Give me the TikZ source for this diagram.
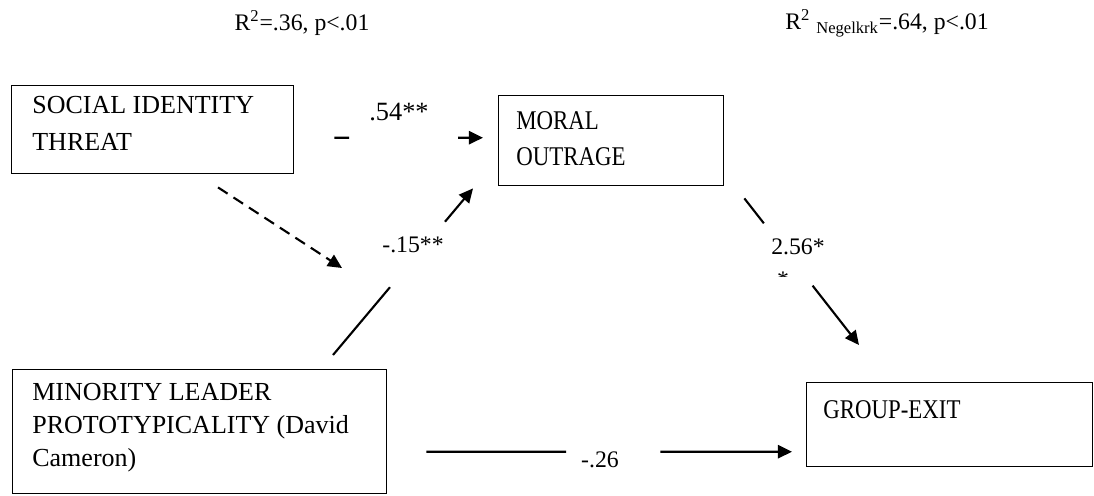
\documentclass[tikz,border=0pt]{standalone}
\usepackage{fontspec}
\setmainfont{Liberation Serif}
\newfontfamily\narrowserif[FakeStretch=0.845]{Liberation Serif}
\usetikzlibrary{arrows.meta,calc}
\begin{document}
\begin{tikzpicture}[x=0.02cm,y=-0.02cm,
  box/.style={draw, line width=0.8pt, rectangle, inner sep=0pt, anchor=north west},
  txt/.style={anchor=base west, align=left, inner sep=0pt},
  lbl/.style={inner sep=0pt, font=\fontsize{13.5}{16}\selectfont},
  conn/.style={line width=1.2pt},
  arr/.style={conn, -{Triangle[length=8pt,width=7.5pt]}},
  dasharr/.style={arr, dash pattern=on 6.5pt off 4pt}]
\useasboundingbox (0,0) rectangle (1094,495);

% model fit statistics
\node[lbl] (fit1) at (302,23) {R\textsuperscript{2}=.36, p<.01};
\node[lbl] (fit2) at (887,23) {R\textsuperscript{2} \textsubscript{Negelkrk}=.64, p<.01};

% variable boxes
\node[box, minimum width=5.64cm, minimum height=1.76cm] (sit) at (11,85) {};
\node[box, minimum width=4.5cm, minimum height=1.8cm] (mor) at (498,95) {};
\node[box, minimum width=7.48cm, minimum height=2.48cm] (min) at (12,369) {};
\node[box, minimum width=5.72cm, minimum height=1.68cm] (grp) at (806,382) {};

% box texts (anchored at the baseline of their last line)
\node[txt, font=\fontsize{14.8}{21}\selectfont] (sitT) at (32,150) {SOCIAL IDENTITY\\THREAT};
\node[txt, font=\narrowserif\fontsize{15.4}{20}\selectfont] (morT) at (516,165) {MORAL\\OUTRAGE};
\node[txt, font=\fontsize{14.8}{18.7}\selectfont] (minT) at (32,466) {MINORITY LEADER\\PROTOTYPICALITY (David\\Cameron)};
\node[txt, font=\narrowserif\fontsize{15.4}{20}\selectfont] (grpT) at (823,418) {GROUP-EXIT};

% threat -> outrage
\coordinate (a0) at ($(sit.east)+(40,8)$);
\coordinate (a1) at ($(mor.west)+(-15,-3)$);
\draw[conn] (a0) -- ($(a0)!0.1!(a1)$);
\draw[arr] ($(a0)!0.833!(a1)$) -- (a1);
\node[lbl, font=\fontsize{15}{16}\selectfont] (la) at (399,112) {.54**};

% prototypicality -> outrage
\coordinate (b0) at ($(min.north west)+(321,-14)$);
\coordinate (b1) at ($(mor.south west)+(-25,2)$);
\draw[conn] (b0) -- ($(b0)!0.407!(b1)$);
\draw[arr] ($(b0)!0.8!(b1)$) -- (b1);
\node[lbl] (lb) at (413,245) {-.15**};

% moderation by threat (dashed)
\coordinate (m1) at (342,268);
\draw[dasharr] ($(sit.south west)+(207,13)$) -- (m1);

% outrage -> exit
\coordinate (c0) at ($(mor.south east)+(20,12)$);
\coordinate (c1) at ($(grp.north west)+(53,-37)$);
\draw[conn] (c0) -- ($(c0)!0.17!(c1)$);
\draw[arr] ($(c0)!0.595!(c1)$) -- (c1);
\node[lbl] (lc) at (798,247) {2.56*};
\begin{scope}
  \clip (770,264) rectangle (830,276);
  \node[lbl] (lc2) at (783,280) {*};
\end{scope}

% prototypicality -> exit
\coordinate (d0) at ($(min.east)+(39,20)$);
\coordinate (d1) at ($(grp.west)+(-14,27)$);
\draw[conn] (d0) -- ($(d0)!0.382!(d1)$);
\draw[arr] ($(d0)!0.64!(d1)$) -- (d1);
\node[lbl] (ld) at (600,460) {-.26};
\end{tikzpicture}
\end{document}
